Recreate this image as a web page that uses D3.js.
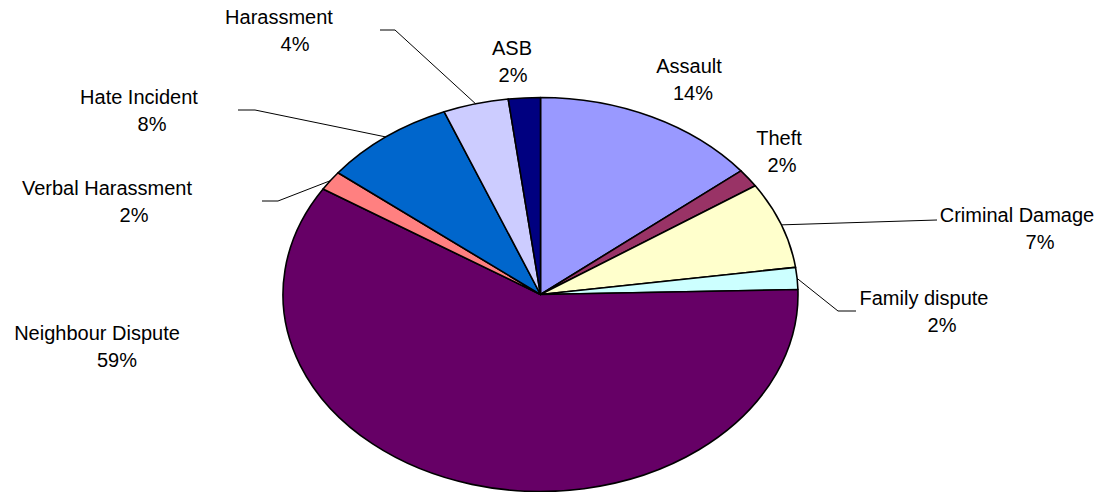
<!DOCTYPE html>
<html>
<head>
<meta charset="utf-8">
<script src="https://cdn.jsdelivr.net/npm/d3@7"></script>
<style>
  html, body { margin: 0; padding: 0; background: #fff; }
  text { font-family: "Liberation Sans", Arial, sans-serif; font-size: 20px; fill: #000; }
</style>
</head>
<body>
<svg id="chart" width="1112" height="492"></svg>
<script>
// incident categories, clockwise from 12 o'clock
const categories = ["Assault", "Theft", "Criminal Damage", "Family dispute", "Neighbour Dispute",
                    "Verbal Harassment", "Hate Incident", "Harassment", "ASB"];
// share of incidents (%)
const values = [14.2, 1.5, 7.1, 1.8, 59.4, 1.6, 8.3, 4.1, 2.0];
const colors = ["#9999FF", "#993366", "#FFFFCC", "#CCFFFF", "#660066",
                "#FF8080", "#0066CC", "#CCCCFF", "#000080"];

// label layout: name center / baseline, percent center, and optional leader elbow
const labelPos = {
    "Assault":           { x: 689, y: 73, px: 693, leader: null },
    "Theft":             { x: 779, y: 145, px: 782, leader: null },
    "Criminal Damage":   { x: 1017, y: 222, px: 1040, leader: [[937, 220]] },
    "Family dispute":    { x: 924, y: 305, px: 942, leader: [[856, 311], [838, 311]] },
    "Neighbour Dispute": { x: 97, y: 340, px: 117, leader: null },
    "Verbal Harassment": { x: 107, y: 195, px: 134, leader: [[262, 201], [278, 201]] },
    "Hate Incident":     { x: 139, y: 104, px: 152, leader: [[238, 110], [255, 110]] },
    "Harassment":        { x: 279, y: 24, px: 295, leader: [[380, 30], [395, 30]] },
    "ASB":               { x: 512, y: 55, px: 513, leader: null }
};

const cx = 540.5, cy = 294.5, rx = 257.5, ry = 197;
const lineGap = 27;

const svg = d3.select("#chart");
const total = d3.sum(values);
const data = categories.map((c, i) => ({ name: c, value: values[i], color: colors[i] }));

const pie = d3.pie().sort(null).value(d => d.value);
const arcs = pie(data);

// draw on a unit circle, stretch to the ellipse
const R = 100;
const arc = d3.arc().innerRadius(0).outerRadius(R);

const g = svg.append("g")
    .attr("transform", `translate(${cx},${cy}) scale(${rx / R},${ry / R})`);

g.selectAll("path")
    .data(arcs)
    .enter()
    .append("path")
    .attr("d", arc)
    .attr("fill", d => d.data.color)
    .attr("stroke", "#000")
    .attr("stroke-width", 1.6)
    .attr("stroke-linejoin", "round")
    .attr("vector-effect", "non-scaling-stroke");

// point on the ellipse edge at a slice's mid angle
const edgePoint = d => {
    const a = (d.startAngle + d.endAngle) / 2;
    return [cx + rx * Math.sin(a), cy - ry * Math.cos(a)];
};

const line = d3.line();
arcs.forEach(d => {
    const p = labelPos[d.data.name];
    if (!p.leader) return;
    const pts = p.leader.concat([edgePoint(d)]);
    svg.append("path")
        .attr("d", line(pts))
        .attr("fill", "none")
        .attr("stroke", "#000")
        .attr("stroke-width", 1);
});

const labels = svg.append("g");
arcs.forEach(d => {
    const p = labelPos[d.data.name];
    labels.append("text")
        .attr("x", p.x)
        .attr("y", p.y)
        .attr("text-anchor", "middle")
        .text(d.data.name);
    labels.append("text")
        .attr("x", p.px)
        .attr("y", p.y + lineGap)
        .attr("text-anchor", "middle")
        .text(Math.round(d.data.value / total * 100) + "%");
});
</script>
</body>
</html>
